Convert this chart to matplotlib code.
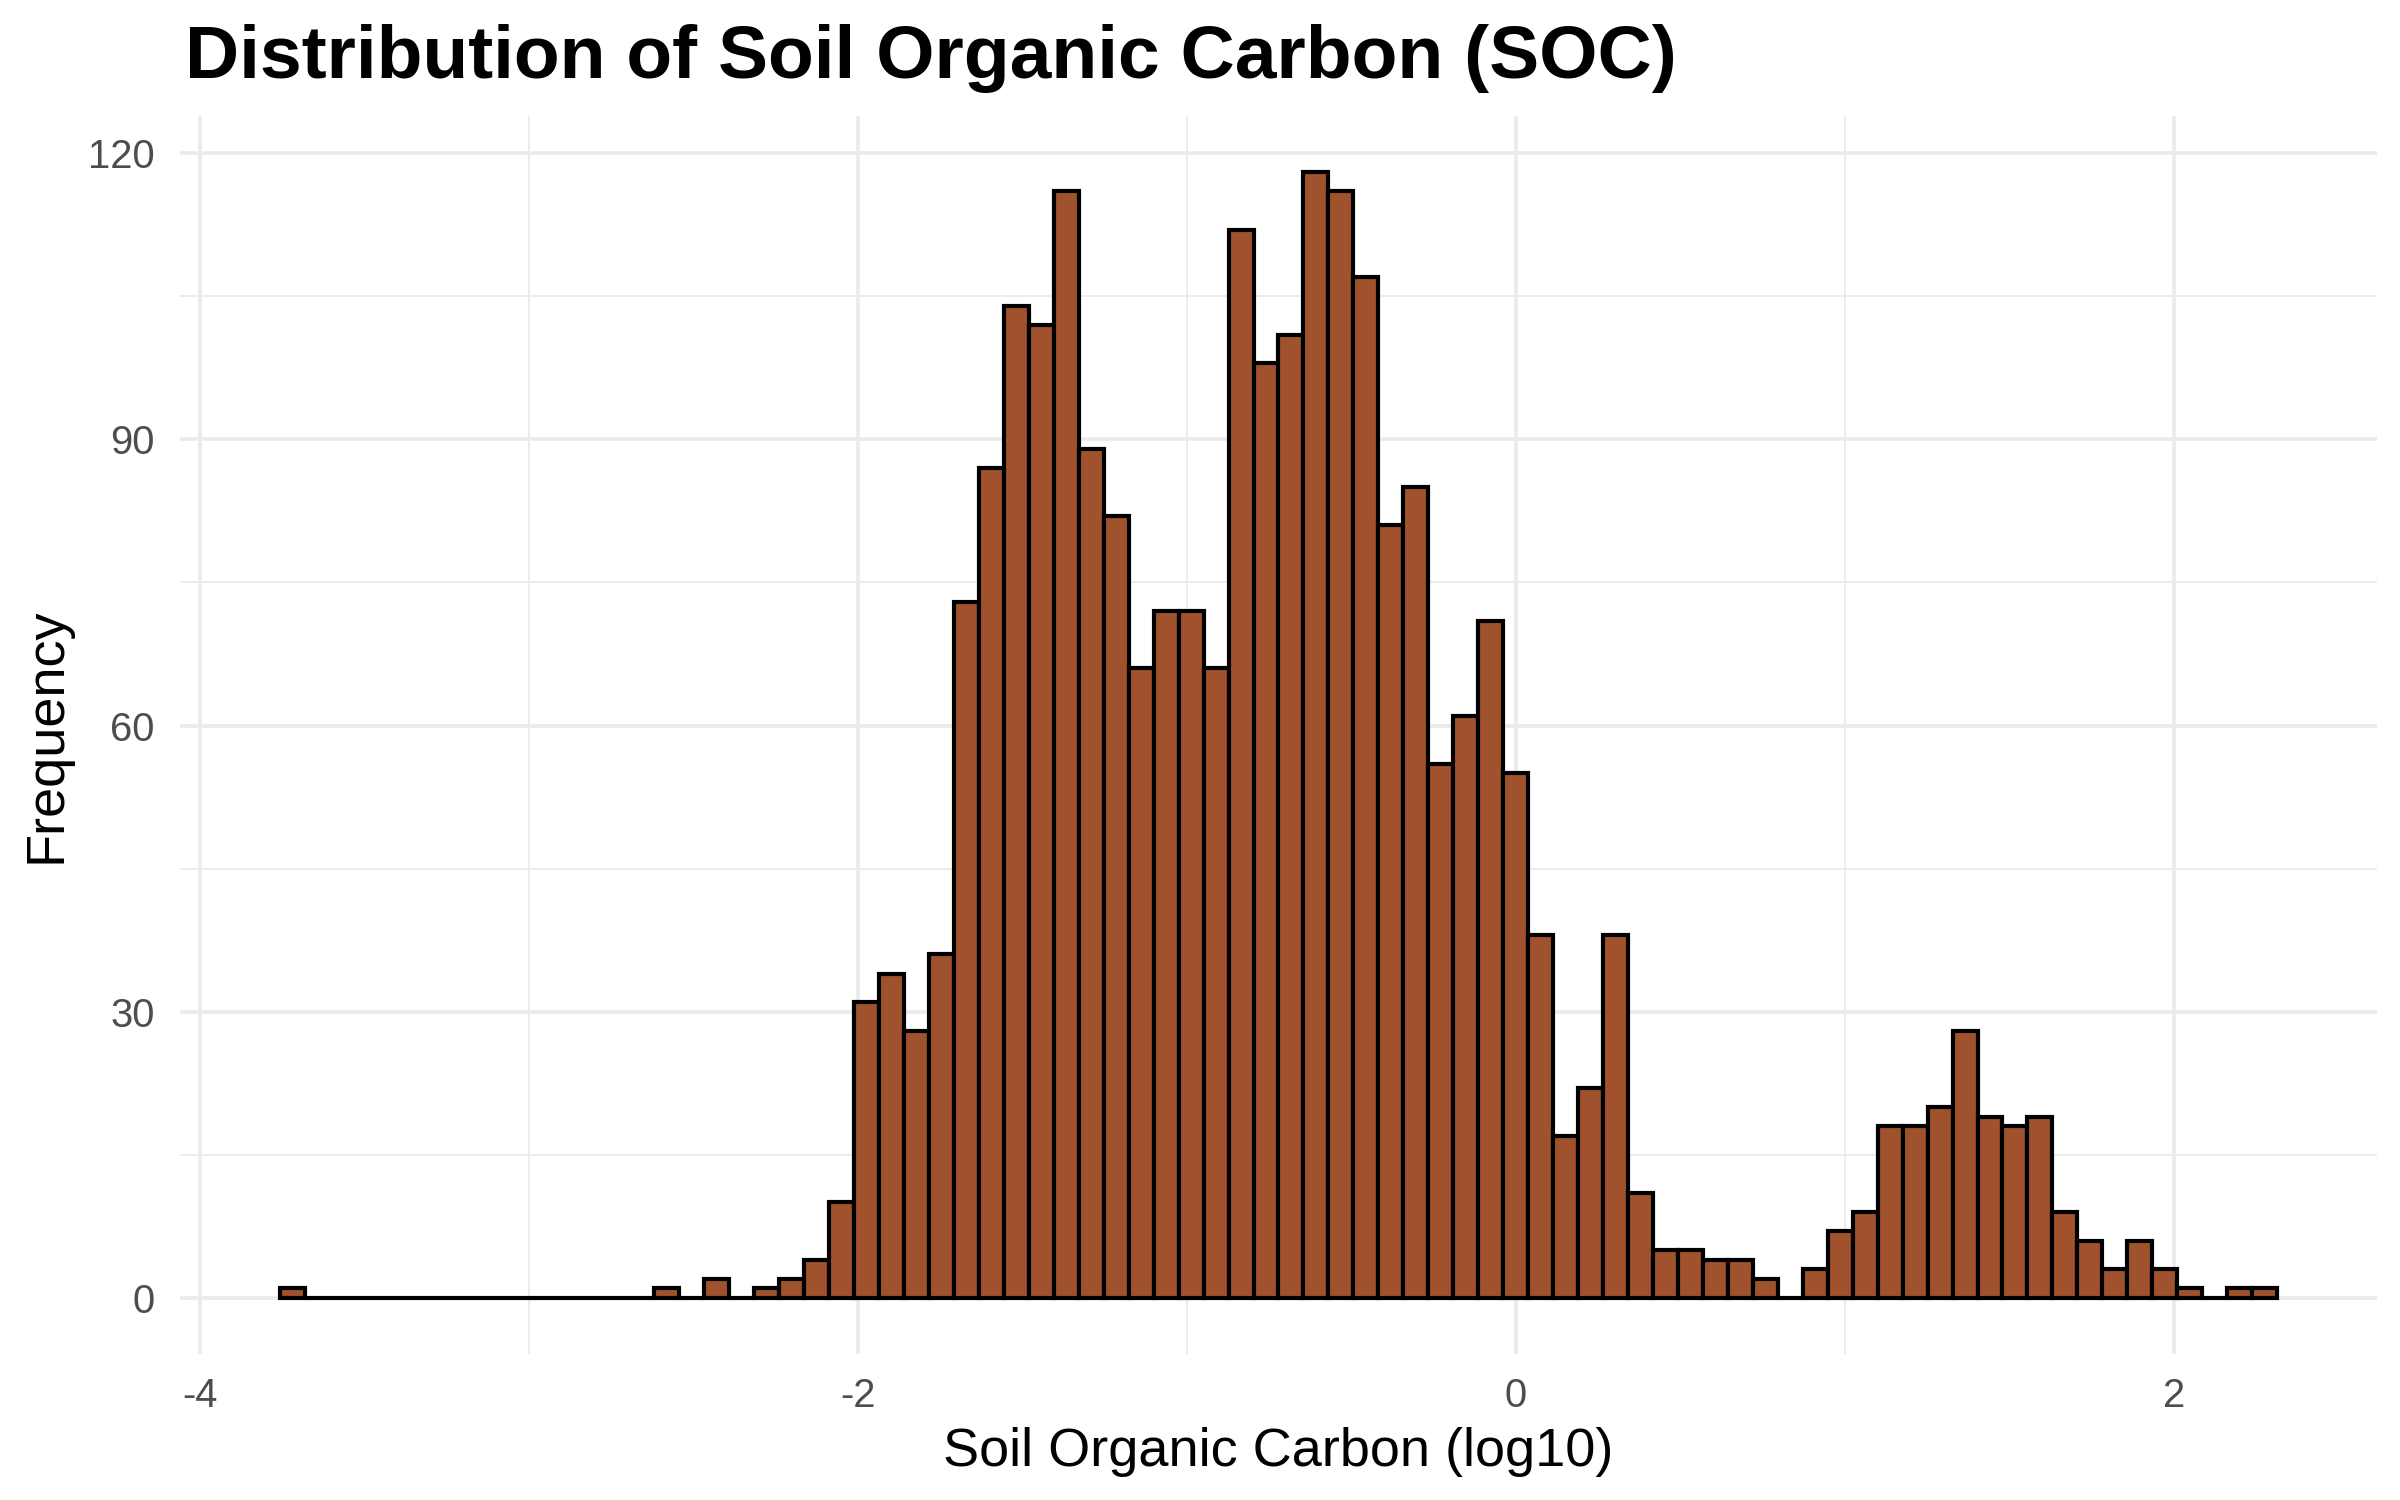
import numpy as np
import matplotlib
matplotlib.use("Agg")
import matplotlib.pyplot as plt

# histogram of log10 SOC, 80 bins, counts
bin_start = -3.757
bin_width = 0.07587
counts = [
    1, 0, 0, 0, 0, 0, 0, 0, 0, 0,
    0, 0, 0, 0, 0, 1, 0, 2, 0, 1,
    2, 4, 10, 31, 34, 28, 36, 73, 87, 104,
    102, 116, 89, 82, 66, 72, 72, 66, 112, 98,
    101, 118, 116, 107, 81, 85, 56, 61, 71, 55,
    38, 17, 22, 38, 11, 5, 5, 4, 4, 2,
    0, 3, 7, 9, 18, 18, 20, 28, 19, 18,
    19, 9, 6, 3, 6, 3, 1, 0, 1, 1,
]
x_ticks = [-4, -2, 0, 2]
x_minor = [-3, -1, 1]
y_ticks = [0, 30, 60, 90, 120]
y_minor = [15, 45, 75, 105]

plt.rcParams['font.family'] = ['Liberation Sans', 'DejaVu Sans']
plt.rcParams['axes.unicode_minus'] = False

fig = plt.figure(figsize=(8, 5), dpi=300)
ax = fig.add_axes([0.075, 0.0973, 0.9154, 0.8253])

edges = bin_start + bin_width * np.arange(len(counts) + 1)
ax.bar(edges[:-1], counts, width=bin_width, align='edge',
       color='#A0522D', edgecolor='black', linewidth=1.0, zorder=3)

lo, hi = edges[0], edges[-1]
pad = (hi - lo) * 0.05
ax.set_xlim(lo - pad, hi + pad)
ymax = max(counts)
ax.set_ylim(-ymax * 0.05, ymax * 1.05)

ax.set_xticks(x_ticks)
ax.set_xticks(x_minor, minor=True)
ax.set_yticks(y_ticks)
ax.set_yticks(y_minor, minor=True)
ax.grid(which='major', color='#EBEBEB', linewidth=0.9, zorder=0)
ax.grid(which='minor', color='#EBEBEB', linewidth=0.45, zorder=0)
ax.set_axisbelow(True)
for s in ax.spines.values():
    s.set_visible(False)
ax.tick_params(which='both', length=0)
ax.tick_params(axis='x', pad=5.5, labelsize=9.6, labelcolor='#4D4D4D')
ax.tick_params(axis='y', pad=6, labelsize=9.6, labelcolor='#4D4D4D')

ax.set_xlabel('Soil Organic Carbon (log10)', fontsize=13, labelpad=3)
ax.set_ylabel('Frequency', fontsize=13, labelpad=4)
fig.text(0.077, 0.948, 'Distribution of Soil Organic Carbon (SOC)',
         fontsize=18, fontweight='bold', ha='left', va='baseline')

fig.savefig('out.png', dpi=300)
